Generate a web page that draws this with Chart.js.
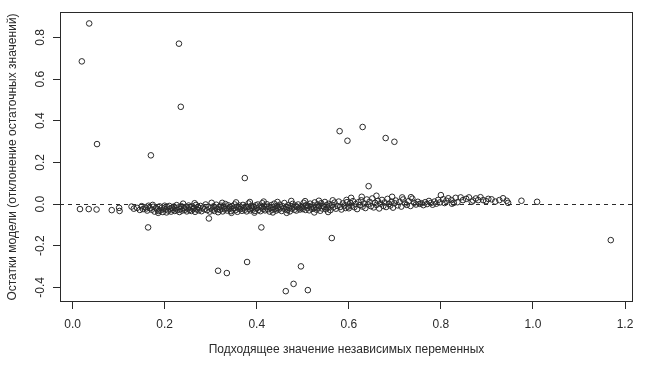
<!DOCTYPE html>
<html>
<head>
<meta charset="utf-8">
<script src="https://cdn.jsdelivr.net/npm/chart.js@4/dist/chart.umd.min.js"></script>
<style>
  html, body { margin: 0; padding: 0; background: #fff; }
</style>
</head>
<body>
<canvas id="resid-plot" width="645" height="371"></canvas>
<script>
// axis texts
const xTitle = "Подходящее значение независимых переменных";
const yTitle = "Остатки модели (отклонение остаточных значений)";
const xTicks = [0, 0.2, 0.4, 0.6, 0.8, 1.0, 1.2];
const yTicks = [-0.4, -0.2, 0, 0.2, 0.4, 0.6, 0.8];

// points far from zero: [fitted, residual]
const outlierPoints = [
  [0.020, 0.685], [0.036, 0.867], [0.053, 0.288], [0.231, 0.770], [0.235, 0.467],
  [0.170, 0.234], [0.164, -0.112], [0.296, -0.069], [0.316, -0.320], [0.335, -0.331],
  [0.374, 0.125], [0.379, -0.278], [0.410, -0.112], [0.496, -0.299], [0.480, -0.383],
  [0.463, -0.418], [0.511, -0.413], [0.563, -0.163], [0.580, 0.350], [0.597, 0.304],
  [0.630, 0.370], [0.680, 0.317], [0.699, 0.299], [0.643, 0.086], [1.169, -0.173]
];

// the dense band around zero: [fitted, residual]
const bandPoints = [
  [0.016, -0.024], [0.035, -0.024], [0.052, -0.026], [0.085, -0.029], [0.101, -0.018], [0.102, -0.033],
  [0.128, -0.012], [0.133, -0.022], [0.140, -0.018], [0.146, -0.028], [0.150, -0.010], [0.153, -0.024],
  [0.158, -0.015], [0.162, -0.031], [0.165, -0.008], [0.168, -0.020], [0.172, -0.027], [0.175, -0.013],
  [0.178, -0.036], [0.181, -0.019], [0.184, -0.025], [0.186, -0.042], [0.189, -0.011], [0.191, -0.030],
  [0.194, -0.017], [0.196, -0.038], [0.198, -0.022], [0.200, -0.008], [0.174, -0.004], [0.187, -0.033],
  [0.160, -0.021],
  [0.202, -0.026], [0.204, -0.040], [0.206, -0.015], [0.208, -0.031], [0.210, -0.009], [0.212, -0.022],
  [0.214, -0.036], [0.216, -0.018], [0.218, -0.027], [0.220, -0.012], [0.222, -0.033], [0.224, -0.020],
  [0.226, -0.005], [0.228, -0.029], [0.230, -0.016], [0.232, -0.038], [0.234, -0.024], [0.236, -0.010],
  [0.238, -0.031], [0.240, 0.002], [0.242, -0.019], [0.244, -0.027], [0.246, -0.013], [0.248, -0.035],
  [0.250, -0.021], [0.252, -0.007], [0.254, -0.028], [0.256, -0.016], [0.258, -0.033], [0.260, -0.011],
  [0.262, -0.024], [0.264, -0.019], [0.265, 0.004], [0.266, -0.037], [0.268, -0.004], [0.270, -0.026],
  [0.272, -0.014], [0.274, -0.030], [0.276, -0.020], [0.278, -0.009], [0.280, -0.034], [0.283, -0.017],
  [0.286, -0.025], [0.289, -0.002], [0.292, -0.029], [0.295, -0.013], [0.298, -0.036],
  [0.300, -0.020], [0.302, 0.006], [0.304, -0.027], [0.306, -0.011], [0.308, -0.033], [0.310, -0.017],
  [0.312, -0.003], [0.314, -0.024], [0.316, -0.039], [0.318, -0.014], [0.320, -0.028], [0.322, -0.008],
  [0.324, -0.021], [0.325, 0.006], [0.326, -0.035], [0.328, -0.012], [0.330, -0.025], [0.332, 0.000],
  [0.334, -0.018], [0.336, -0.031], [0.338, -0.006], [0.340, -0.022], [0.342, -0.015], [0.344, -0.034],
  [0.345, -0.042], [0.346, -0.010], [0.348, -0.026], [0.350, -0.019], [0.352, -0.002], [0.354, -0.029],
  [0.355, 0.008], [0.356, -0.013], [0.358, -0.037], [0.360, -0.021], [0.362, -0.007], [0.364, -0.024],
  [0.366, -0.016], [0.368, -0.032], [0.370, -0.004], [0.372, -0.019], [0.374, -0.027], [0.376, -0.011],
  [0.378, -0.035], [0.380, -0.015], [0.382, 0.003], [0.384, -0.023], [0.385, 0.010], [0.386, -0.030],
  [0.388, -0.009], [0.390, -0.018], [0.392, -0.026], [0.394, -0.013], [0.395, -0.041], [0.396, -0.033],
  [0.398, -0.006],
  [0.400, -0.020], [0.402, -0.002], [0.404, -0.028], [0.406, -0.012], [0.408, -0.034], [0.410, -0.017],
  [0.412, 0.004], [0.414, -0.023], [0.415, 0.012], [0.416, -0.008], [0.418, -0.030], [0.420, -0.015],
  [0.422, -0.001], [0.424, -0.025], [0.426, -0.011], [0.428, -0.036], [0.430, -0.019], [0.432, -0.005],
  [0.434, -0.027], [0.435, -0.040], [0.436, -0.014], [0.438, 0.002], [0.440, -0.022], [0.442, -0.031],
  [0.444, -0.009], [0.445, 0.010], [0.446, -0.018], [0.448, -0.026], [0.450, -0.003], [0.452, -0.016],
  [0.454, -0.033], [0.456, -0.010], [0.458, -0.021], [0.460, 0.005], [0.462, -0.024], [0.464, -0.013],
  [0.465, -0.042], [0.466, -0.029], [0.468, -0.006], [0.470, -0.019], [0.472, -0.035], [0.474, -0.011],
  [0.475, 0.015], [0.476, -0.022], [0.478, 0.001], [0.480, -0.016], [0.482, -0.027], [0.484, -0.008],
  [0.486, -0.031], [0.488, -0.014], [0.490, -0.002], [0.492, -0.020], [0.494, -0.026], [0.496, -0.010],
  [0.498, -0.017],
  [0.500, -0.024], [0.502, 0.006], [0.504, -0.012], [0.505, 0.014], [0.506, -0.028], [0.508, -0.004],
  [0.510, -0.018], [0.512, -0.009], [0.514, -0.030], [0.516, 0.002], [0.518, -0.015], [0.520, -0.023],
  [0.522, -0.006], [0.524, -0.020], [0.525, -0.040], [0.526, 0.008], [0.528, -0.013], [0.530, -0.027],
  [0.532, -0.002], [0.534, -0.017], [0.535, 0.016], [0.536, -0.010], [0.538, -0.032], [0.540, 0.004],
  [0.542, -0.021], [0.544, -0.008], [0.546, -0.014], [0.548, 0.010], [0.550, -0.025], [0.552, -0.005],
  [0.554, -0.018], [0.555, -0.038], [0.556, 0.001], [0.558, -0.011], [0.560, -0.029], [0.563, -0.003],
  [0.565, 0.018], [0.566, -0.016], [0.569, 0.007], [0.572, -0.022], [0.575, -0.009], [0.578, 0.012],
  [0.581, -0.014], [0.584, -0.026], [0.587, 0.003], [0.590, -0.007], [0.593, -0.019], [0.595, 0.020],
  [0.596, 0.009], [0.598, -0.012],
  [0.600, -0.020], [0.603, 0.005], [0.605, 0.030], [0.606, -0.008], [0.609, 0.014], [0.612, -0.015],
  [0.615, 0.000], [0.618, -0.024], [0.621, 0.009], [0.624, -0.005], [0.627, 0.018], [0.628, 0.035],
  [0.630, -0.012], [0.633, 0.003], [0.636, -0.019], [0.639, 0.022], [0.642, -0.002], [0.645, 0.011],
  [0.648, -0.010], [0.651, 0.027], [0.654, -0.016], [0.657, 0.006], [0.660, -0.004], [0.660, 0.040],
  [0.663, 0.015], [0.666, -0.021], [0.669, 0.002], [0.672, 0.020], [0.675, -0.009], [0.678, 0.008],
  [0.681, -0.014], [0.684, 0.025], [0.687, 0.001], [0.690, -0.007], [0.693, 0.012], [0.694, 0.035],
  [0.696, -0.017], [0.699, 0.004],
  [0.702, 0.017], [0.706, -0.006], [0.710, 0.010], [0.714, -0.012], [0.716, 0.032], [0.718, 0.022],
  [0.722, 0.003], [0.726, -0.004], [0.730, 0.014], [0.734, -0.009], [0.735, 0.033], [0.738, 0.026],
  [0.742, 0.006], [0.746, -0.002], [0.750, 0.011], [0.754, 0.001], [0.758, 0.004], [0.762, -0.005],
  [0.766, 0.009], [0.770, 0.000], [0.774, 0.015], [0.778, 0.005], [0.782, -0.003], [0.786, 0.012],
  [0.790, 0.002], [0.794, 0.020], [0.798, 0.008],
  [0.800, 0.043], [0.805, 0.023], [0.808, 0.005], [0.812, 0.016], [0.816, 0.028], [0.823, 0.019],
  [0.824, 0.002], [0.828, 0.006], [0.832, 0.030], [0.836, 0.009], [0.843, 0.032], [0.848, 0.019],
  [0.855, 0.025], [0.861, 0.032], [0.867, 0.011], [0.870, 0.017], [0.876, 0.027], [0.881, 0.019],
  [0.886, 0.033], [0.892, 0.019], [0.898, 0.014],
  [0.903, 0.025], [0.910, 0.023], [0.918, 0.012], [0.927, 0.019], [0.935, 0.028], [0.943, 0.016],
  [0.946, 0.006], [0.975, 0.016], [1.009, 0.011]
];

const toXY = pts => pts.map(p => ({ x: p[0], y: p[1] }));
const inkColor = "#2a2a2a";
const fontFamily = "Arial, 'Liberation Sans', sans-serif";

// box around the plot region, zero reference line, rotated y labels
const rStylePlugin = {
  id: "rStyle",
  beforeDatasetsDraw(chart) {
    const { ctx, chartArea, scales } = chart;
    const y0 = Math.round(scales.y.getPixelForValue(0)) + 0.5;
    ctx.save();
    ctx.strokeStyle = inkColor;
    ctx.lineWidth = 1;
    ctx.setLineDash([4, 4]);
    ctx.beginPath();
    ctx.moveTo(chartArea.left, y0);
    ctx.lineTo(chartArea.right, y0);
    ctx.stroke();
    ctx.restore();
  },
  afterDraw(chart) {
    const { ctx, chartArea, scales } = chart;
    ctx.save();
    ctx.strokeStyle = inkColor;
    ctx.lineWidth = 1;
    ctx.strokeRect(chartArea.left + 0.5, chartArea.top + 0.5,
      chartArea.right - chartArea.left - 1, chartArea.bottom - chartArea.top - 1);

    ctx.fillStyle = inkColor;
    ctx.font = "12px " + fontFamily;
    ctx.textAlign = "center";
    ctx.textBaseline = "alphabetic";
    yTicks.forEach(v => {
      const py = scales.y.getPixelForValue(v);
      ctx.save();
      ctx.translate(chartArea.left - 16, py);
      ctx.rotate(-Math.PI / 2);
      ctx.fillText(v.toFixed(1), 0, 0);
      ctx.restore();
    });

    ctx.save();
    ctx.translate(16, (chartArea.top + chartArea.bottom) / 2);
    ctx.rotate(-Math.PI / 2);
    ctx.fillText(yTitle, 0, 0);
    ctx.restore();
    ctx.restore();
  }
};

const ctx = document.getElementById("resid-plot").getContext("2d");
const chart = new Chart(ctx, {
  type: "scatter",
  data: {
    datasets: [{
      label: "band",
      data: toXY(bandPoints)
    }, {
      label: "outliers",
      data: toXY(outlierPoints)
    }]
  },
  options: {
    responsive: false,
    animation: false,
    devicePixelRatio: 1,
    layout: { padding: { top: 12, right: 12, left: 0, bottom: 0 } },
    elements: {
      point: {
        radius: 2.8,
        borderWidth: 1,
        borderColor: inkColor,
        backgroundColor: "rgba(0,0,0,0)",
        hoverRadius: 2.8
      }
    },
    plugins: {
      legend: { display: false },
      tooltip: { enabled: false }
    },
    scales: {
      x: {
        type: "linear",
        min: -0.0274,
        max: 1.2173,
        afterBuildTicks: s => { s.ticks = xTicks.map(v => ({ value: v })); },
        afterFit: s => { s.height = 69; },
        grid: { drawOnChartArea: false, drawTicks: true, tickLength: 7, color: inkColor },
        border: { display: false },
        ticks: {
          padding: 8,
          color: inkColor,
          maxRotation: 0,
          autoSkip: false,
          font: { family: fontFamily, size: 12 },
          callback: v => v.toFixed(1)
        },
        title: {
          display: true,
          text: xTitle,
          color: inkColor,
          font: { family: fontFamily, size: 12 },
          padding: { top: 0, bottom: 14 }
        }
      },
      y: {
        type: "linear",
        min: -0.470,
        max: 0.922,
        afterBuildTicks: s => { s.ticks = yTicks.map(v => ({ value: v })); },
        afterFit: s => { s.width = 60; },
        grid: { drawOnChartArea: false, drawTicks: true, tickLength: 7, color: inkColor },
        border: { display: false },
        ticks: { display: false }
      }
    }
  },
  plugins: [rStylePlugin]
});
</script>
</body>
</html>
